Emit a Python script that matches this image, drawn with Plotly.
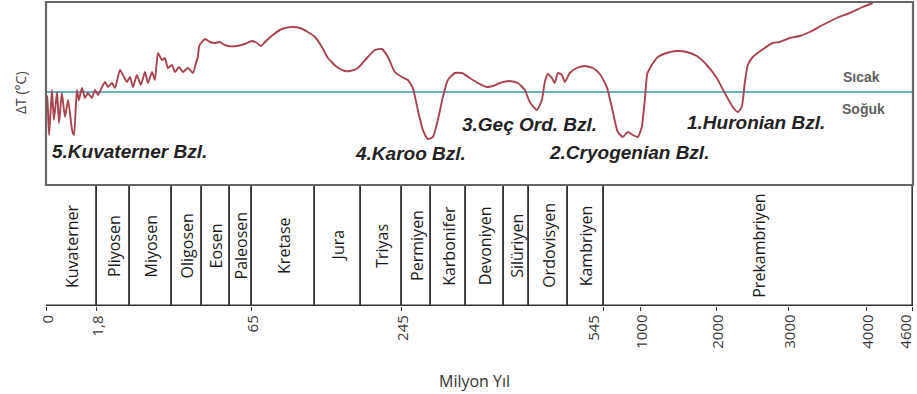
import numpy as np
import plotly.graph_objects as go

# ---- data ---------------------------------------------------------------
# Geological periods (Ma boundaries) shown in the lower strip
PERIOD_NAMES = ["Kuvaterner", "Pliyosen", "Miyosen", "Oligosen", "Eosen", "Paleosen",
                "Kretase", "Jura", "Triyas", "Permiyen", "Karbonifer", "Devoniyen",
                "Silüriyen", "Ordovisyen", "Kambriyen", "Prekambriyen"]
PERIOD_START = [0, 1.8, 5.3, 23, 34, 56, 65, 145, 200, 245, 290, 360, 410, 440, 500, 545]
PERIOD_END = [1.8, 5.3, 23, 34, 56, 65, 145, 200, 245, 290, 360, 410, 440, 500, 545, 4600]

# Tick marks on the time axis
TICK_AGES = [0, 1.8, 65, 245, 545, 1000, 2000, 3000, 4000, 4600]
TICK_LABELS = ["0", "1,8", "65", "245", "545", "1000", "2000", "3000", "4000", "4600"]

# Temperature anomaly curve (age in Ma, deltaT in °C relative to today)
CURVE_AGE = [0.0, 0.04, 0.11, 0.21, 0.28, 0.39, 0.46, 0.56, 0.67, 0.78, 0.92, 0.99,
             1.09, 1.16, 1.27, 1.38, 1.48, 1.62, 1.73, 1.91, 2.33, 2.65, 2.97, 3.39,
             3.71, 4.24, 4.56, 4.98, 5.3, 6.6, 8.2, 9.9, 11.6, 12.9, 14.6, 15.8, 17.1,
             18.8, 20.0, 21.3, 23.0, 24.1, 25.6, 27.0, 28.9, 30.7, 31.8, 32.5, 33.0,
             34.0, 36.4, 40.3, 44.2, 48.1, 50.5, 54.4, 58.9, 62.1, 65, 71.3, 76.4, 81.5,
             91.6, 103, 115.8, 126, 136, 145, 153.4, 160.5, 171.3, 180.9, 186.8, 196.4,
             206.6, 215.4, 223.1, 229.7, 237.3, 245, 254.3, 262, 269.8, 277.6, 285.3,
             294, 304, 314, 324, 338, 352, 365.3, 375.8, 387.6, 395.5, 404.7, 417.2,
             426.8, 435.2, 441.5, 452.3, 460, 464.6, 469.2, 475.4, 480, 484.6, 490.8,
             495.4, 502.5, 511.3, 521.3, 531.3, 540, 582, 643, 717, 779, 840, 902, 963,
             1013, 1053, 1085, 1145, 1224, 1342, 1474, 1605, 1737, 1868, 2000, 2111,
             2222, 2292, 2347, 2389, 2431, 2500, 2625, 2778, 2875, 3013, 3141, 3269,
             3436, 3615, 3782, 3949, 4078]
CURVE_DT = [-0.3, -0.5, -4.3, 0.2, -2.8, 0.0, -3.1, -0.1, -2.5, -0.8, -3.8, -4.3,
            0.2, -0.8, 0.4, -0.6, -0.1, -0.6, 0.2, -0.3, 0.5, 1.0, 0.5, 0.9,
            0.4, 2.2, 1.7, 1.0, 1.5, 0.5, 1.7, 0.7, 2.0, 0.9, 2.0, 1.2, 3.9,
            3.2, 3.4, 2.4, 2.7, 2.0, 2.5, 2.0, 2.4, 1.9, 2.9, 3.5, 4.6,
            5.0, 5.3, 5.0, 4.9, 5.0, 4.8, 4.6, 4.6, 4.8, 5.1, 4.9, 4.6, 5.0,
            5.7, 6.3, 6.5, 6.4, 6.0, 5.5, 4.5, 3.4, 2.5, 2.1, 2.1, 2.4,
            3.4, 4.2, 4.3, 3.5, 2.0, 1.5, 1.2, 0.4, -1.8, -3.8, -4.7,
            -4.5, -2.8, -0.5, 1.2, 1.9, 1.9, 1.4, 0.9, 0.5, 0.6, 0.9, 1.1,
            0.9, 0.2, -1.0, -1.8, -0.8, 1.0, 1.8, 1.4, 0.9, 1.9, 1.7,
            1.0, 1.9, 2.4, 2.6, 2.4, 1.8, 0.5, -1.5, -4.0, -4.5, -4.0, -4.3, -4.5,
            -3.5, -0.8, 1.8, 2.7, 3.5, 3.9, 4.1, 4.0, 3.6, 2.7, 1.4, -0.1,
            -1.5, -2.0, -1.5, 0.9, 2.7, 3.5, 4.2, 4.9, 5.0, 5.4, 5.6, 6.0,
            6.7, 7.4, 7.9, 8.5, 8.9]

# Glaciation labels: (text, age of the label's left edge, deltaT level)
GLACIATIONS = [("5.Kuvaterner Bzl.", 0.14, -5.9),
               ("4.Karoo Bzl.", 190, -6.1),
               ("3.Geç Ord. Bzl.", 348, -3.2),
               ("2.Cryogenian Bzl.", 468, -6.0),
               ("1.Huronian Bzl.", 1579, -3.0)]

# ---- piecewise time scale (age in Ma -> position along the axis) ---------
SCALE_AGES = [0, 1.8, 5.3, 23, 34, 56, 65, 145, 200, 245, 290, 360, 410, 440, 500,
              545, 1000, 2000, 3000, 4000, 4600]
SCALE_POS = [0, 51, 84, 126, 156, 184, 206, 269, 315, 356, 385, 420, 458, 483, 522,
             558, 595, 671, 743, 821, 867]


def scale(age):
    return np.interp(age, SCALE_AGES, SCALE_POS)


FONT = "Open Sans"
LABEL_FONT = "Liberation Sans"

fig = go.Figure()

# Period strip
p0 = scale(np.array(PERIOD_START))
p1 = scale(np.array(PERIOD_END))
fig.add_trace(go.Bar(
    x=(p0 + p1) / 2, y=[1] * len(PERIOD_NAMES), width=p1 - p0,
    xaxis="x", yaxis="y2",
    marker=dict(color="white", line=dict(color="#333333", width=1.6)),
    hoverinfo="skip", showlegend=False,
))
for name, a, b in zip(PERIOD_NAMES, p0, p1):
    fig.add_annotation(x=(a + b) / 2, y=0.5, xref="x", yref="y2", text=name,
                       textangle=-90, showarrow=False,
                       font=dict(family=FONT, size=16, color="#1a1a1a"))

# Reference line (present-day temperature)
fig.add_trace(go.Scatter(
    x=[0, SCALE_POS[-1]], y=[0, 0], mode="lines", xaxis="x", yaxis="y",
    line=dict(color="#6aaec2", width=2.2), hoverinfo="skip", showlegend=False,
))

# Temperature curve
fig.add_trace(go.Scatter(
    x=scale(np.array(CURVE_AGE)), y=CURVE_DT, mode="lines", xaxis="x", yaxis="y",
    line=dict(color="#a8434f", width=1.9, shape="spline", smoothing=0.5),
    hoverinfo="skip", showlegend=False,
))

for text, age, dt in GLACIATIONS:
    fig.add_annotation(x=scale(age), y=dt, xref="x", yref="y",
                       text="<b><i>" + text + "</i></b>",
                       xanchor="left", showarrow=False,
                       font=dict(family=LABEL_FONT, size=19, color="#222222"))

fig.add_annotation(x=816, y=1.5, xref="x", yref="y", text="<b>Sıcak</b>",
                   showarrow=False, font=dict(family=LABEL_FONT, size=14, color="#606060"))
fig.add_annotation(x=818, y=-1.7, xref="x", yref="y", text="<b>Soğuk</b>",
                   showarrow=False, font=dict(family=LABEL_FONT, size=14, color="#606060"))

# Rotated time-axis labels (drawn as annotations so the edge label is not dropped)
label_nudge = {"545": -11, "4600": -8}
for age, lab in zip(TICK_AGES, TICK_LABELS):
    fig.add_annotation(x=scale(age), y=0, xref="x", yref="paper", text=lab,
                       textangle=-90, xanchor="center", yanchor="top",
                       yshift=-7, xshift=label_nudge.get(lab, 0), showarrow=False,
                       font=dict(family=FONT, size=15, color="#3a3a3a"))

fig.add_annotation(x=-0.03, y=0, xref="paper", yref="y", text="ΔT (°C)",
                   xanchor="center", yanchor="middle",
                   textangle=-90, showarrow=False,
                   font=dict(family=FONT, size=14, color="#444444"))
fig.add_annotation(x=0.494, y=-0.247, xref="paper", yref="paper", text="Milyon Yıl",
                   xanchor="center", yanchor="middle",
                   showarrow=False, font=dict(family=FONT, size=16, color="#333333"))

# Frame around the temperature panel
fig.add_shape(type="rect", xref="x domain", yref="y domain", x0=0, x1=1, y0=0, y1=1,
              line=dict(color="#666666", width=2.2))

fig.update_layout(
    width=917, height=394,
    margin=dict(l=46, r=4, t=2, b=88),
    paper_bgcolor="white", plot_bgcolor="white",
    bargap=0,
    xaxis=dict(range=[0, SCALE_POS[-1] + 0.3], anchor="y2", domain=[0, 1],
               tickvals=scale(np.array(TICK_AGES)), showticklabels=False,
               ticks="outside", ticklen=4, tickcolor="#333333",
               showgrid=False, zeroline=False, showline=False),
    yaxis=dict(domain=[0.398, 1], range=[-9.3, 9.0], showticklabels=False,
               showgrid=False, zeroline=False, ticks=""),
    yaxis2=dict(domain=[0, 0.398], range=[0, 1], showticklabels=False,
                showgrid=False, zeroline=False, ticks=""),
)

fig.write_html("out.html")
